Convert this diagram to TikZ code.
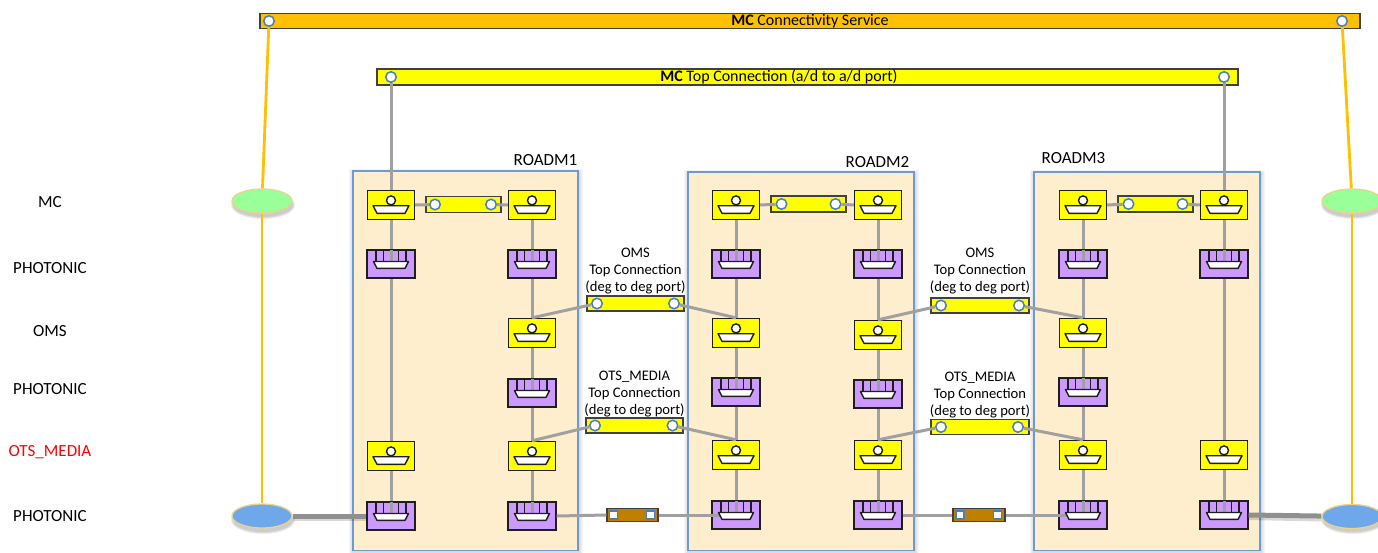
\documentclass[tikz,border=0pt]{standalone}
\usepackage{fontspec}
\setmainfont{Carlito}
\usetikzlibrary{shapes.geometric,calc}
\definecolor{orangebar}{HTML}{FFC000}
\definecolor{ybar}{HTML}{FFFF00}
\definecolor{purp}{HTML}{CC99FF}
\definecolor{roadmfill}{HTML}{FFEECE}
\definecolor{roadmline}{HTML}{6A9BD4}
\definecolor{portblue}{HTML}{4A7EC2}
\definecolor{conngray}{HTML}{A0A0A0}
\definecolor{ovalgreen}{HTML}{99FF99}
\definecolor{ovalblue}{HTML}{6FA8EA}
\definecolor{ovalline}{HTML}{E8D48C}
\definecolor{brownbar}{HTML}{BF8000}
\definecolor{edgec}{HTML}{1E1E1E}
\newcommand\yicon[1]{%
 \begin{scope}[shift={(#1.center)}]
  \draw[edgec,line width=1.4pt,fill=white,line join=round] (-18,0.7) -- (18,0.7) -- (14,8.3) -- (-14,8.3) -- cycle;
  \draw[edgec,line width=1.4pt,fill=white] (0,-4.6) circle[radius=4.5];
 \end{scope}}
\newcommand\picon[1]{%
 \begin{scope}[shift={(#1.center)}]
  \foreach \dx in {-15,-7.5,7.5,15} \draw[edgec,line width=1.4pt] (\dx,-14) -- (\dx,-2.5);
  \draw[conngray,line width=3pt] (0,-14) -- (0,-2.5);
  \draw[edgec,line width=1.4pt,fill=white,line join=round] (-17.5,-2.5) -- (17.5,-2.5) -- (14,4.4) -- (-14,4.4) -- cycle;
 \end{scope}}
\begin{document}
\begin{tikzpicture}[x=1pt,y=-1pt,
  ynode/.style={rectangle,draw=edgec,line width=1.4pt,fill=ybar,minimum width=47pt,minimum height=29pt,inner sep=0pt},
  pnode/.style={rectangle,draw=edgec,line width=1.4pt,fill=purp,minimum width=48pt,minimum height=28pt,inner sep=0pt},
  port/.style={circle,draw=portblue,line width=1.5pt,fill=white,minimum size=10.5pt,inner sep=0pt},
  sqport/.style={rectangle,draw=portblue,line width=1.3pt,fill=white,minimum size=8pt,inner sep=0pt},
  conn/.style={draw=conngray,line width=3pt},
  orl/.style={draw=orangebar,line width=2.8pt},
  fatline/.style={draw=conngray!90!black,line width=5pt},
  bar/.style={rectangle,draw=edgec!85,line width=1.1pt,inner sep=0pt},
  lbl/.style={font=\fontsize{17}{20}\selectfont,text height=11pt,text depth=0pt,inner sep=0pt},
  clbl/.style={font=\fontsize{14.6}{17}\selectfont,align=center,inner sep=0pt,anchor=north},
  oval/.style={ellipse,draw=ovalline,line width=1.3pt,minimum width=60pt,minimum height=24pt,inner sep=0pt},
  roadmbox/.style={draw=roadmline,line width=1.4pt,fill=roadmfill},
]
\useasboundingbox (0,0) rectangle (1378,552);
\fill[white] (0,0) rectangle (1378,552);

% ROADM boxes with soft shadow
\foreach \a/\b/\c in {353/171/578, 688/172/914, 1034/172/1260} {
  \foreach \k in {1,2,3,4} \fill[black,opacity=0.035] (\a-\k,\b-\k+2) rectangle (\c+\k+1,556);
  \draw[roadmbox] (\a,\b) rectangle (\c,550.5);
}
\node[lbl] (lr1) at (545.5,160) {ROADM1};
\node[lbl] (lr2) at (877.5,162) {ROADM2};
\node[lbl] (lr3) at (1073.5,158) {ROADM3};

% layer labels
\node[lbl] (lmc) at (50,202) {MC};
\node[lbl] (lph1) at (50,268) {PHOTONIC};
\node[lbl] (loms) at (50,331) {OMS};
\node[lbl] (lph2) at (50,389) {PHOTONIC};
\node[lbl,text=red] (lots) at (50,451) {OTS\_MEDIA};
\node[lbl] (lph3) at (50,516) {PHOTONIC};

% top bars
\node[bar,fill=orangebar,minimum width=1100pt,minimum height=15pt] (svc) at (810,21) {};
\node[font=\fontsize{16}{18}\selectfont,text height=10.3pt,text depth=0pt,inner sep=0pt] (svct) at (810,20.5) {\textbf{MC} Connectivity Service};
\node[port] (svcL) at (269,21) {};
\node[port] (svcR) at (1342,21) {};
\node[bar,fill=ybar,minimum width=861pt,minimum height=16pt] (top) at (807.5,77) {};
\node[font=\fontsize{16}{18}\selectfont,text height=10.3pt,text depth=0pt,inner sep=0pt] (topt) at (779,76.5) {\textbf{MC} Top Connection (a/d to a/d port)};
\node[port] (topL) at (391,77) {};
\node[port] (topR) at (1224,77) {};

% ovals with shadows
\foreach \x/\y in {262/201, 262/516, 1352/201, 1352/516} {
  \foreach \k in {0,1,2} \fill[black,opacity=0.07] (\x+1,\y+4) ellipse[x radius=30+\k, y radius=12+\k];
}
\node[oval,fill=ovalgreen] (gL) at (262,201) {};
\node[oval,fill=ovalblue] (bL) at (262,516) {};
\node[oval,fill=ovalgreen] (gR) at (1352,201) {};
\node[oval,fill=ovalblue] (bR) at (1352,516.5) {};

% yellow nodes
\foreach \n/\x/\y in {r1mcL/391/205, r1mcR/532/205, r1omsR/532/333, r1otsL/391/456, r1otsR/532/456,
  r2mcL/736/205, r2mcR/878/205, r2omsL/736/333, r2omsR/878/335, r2otsL/736/455, r2otsR/878/455,
  r3mcL/1083/205, r3mcR/1224/205, r3omsL/1083/333, r3otsL/1083/455, r3otsR/1224/455}
  \node[ynode] (\n) at (\x,\y) {};
% purple nodes
\foreach \n/\x/\y in {r1p1L/391/264, r1p1R/532/264, r1p2R/532/393, r1p3L/391/516, r1p3R/532/516,
  r2p1L/736/264, r2p1R/878/264, r2p2L/736/392, r2p2R/878/394, r2p3L/736/515, r2p3R/878/515,
  r3p1L/1083/264, r3p1R/1224/264, r3p2L/1083/392, r3p3L/1083/515, r3p3R/1224/515}
  \node[pnode] (\n) at (\x,\y) {};

% inner MC connections
\node[bar,fill=ybar,minimum width=75pt,minimum height=16pt] (m1) at (463.5,204.5) {};
\node[port] (m1a) at (435,204.5) {}; \node[port] (m1b) at (491,204.5) {};
\node[bar,fill=ybar,minimum width=75pt,minimum height=16pt] (m2) at (808.5,204) {};
\node[port] (m2a) at (781.5,204) {}; \node[port] (m2b) at (835.5,204) {};
\node[bar,fill=ybar,minimum width=75pt,minimum height=16pt] (m3) at (1155.5,204) {};
\node[port] (m3a) at (1128.5,204) {}; \node[port] (m3b) at (1182.5,204) {};

% OMS / OTS top connections
\node[bar,fill=ybar,minimum width=97pt,minimum height=15pt] (om1) at (635.5,303.5) {};
\node[port] (om1a) at (597,303.5) {}; \node[port] (om1b) at (674,303.5) {};
\node[bar,fill=ybar,minimum width=98pt,minimum height=15pt] (om2) at (980,305.5) {};
\node[port] (om2a) at (941,305.5) {}; \node[port] (om2b) at (1019,305.5) {};
\node[bar,fill=ybar,minimum width=97pt,minimum height=15pt] (ot1) at (634.5,425.5) {};
\node[port] (ot1a) at (595,425.5) {}; \node[port] (ot1b) at (672.5,425.5) {};
\node[bar,fill=ybar,minimum width=98pt,minimum height=15pt] (ot2) at (980,427) {};
\node[port] (ot2a) at (941,427) {}; \node[port] (ot2b) at (1018,427) {};

\node[clbl] (om1t) at (635.5,247.5) {OMS\\Top Connection\\(deg to deg port)};
\node[clbl] (om2t) at (980,247.5) {OMS\\Top Connection\\(deg to deg port)};
\node[clbl] (ot1t) at (634.5,370.5) {OTS\_MEDIA\\Top Connection\\(deg to deg port)};
\node[clbl] (ot2t) at (980,371.5) {OTS\_MEDIA\\Top Connection\\(deg to deg port)};

% brown links
\node[bar,fill=brownbar,minimum width=51pt,minimum height=13pt] (bl1) at (632.5,515) {};
\node[sqport] (bl1a) at (613.5,515) {}; \node[sqport] (bl1b) at (650.5,515) {};
\node[bar,fill=brownbar,minimum width=52pt,minimum height=13pt] (bl2) at (979,515) {};
\node[sqport] (bl2a) at (960,515) {}; \node[sqport] (bl2b) at (997.5,515) {};

% connectors
\draw[conn] (topL) -- (r1mcL.north);
\draw[conn] (topR) -- (r3mcR.north);
\foreach \a/\b in {r1mcL/r1p1L, r1p1L/r1otsL, r1otsL/r1p3L,
  r1mcR/r1p1R, r1p1R/r1omsR, r1omsR/r1p2R, r1p2R/r1otsR, r1otsR/r1p3R,
  r2mcL/r2p1L, r2p1L/r2omsL, r2omsL/r2p2L, r2p2L/r2otsL, r2otsL/r2p3L,
  r2mcR/r2p1R, r2p1R/r2omsR, r2omsR/r2p2R, r2p2R/r2otsR, r2otsR/r2p3R,
  r3mcL/r3p1L, r3p1L/r3omsL, r3omsL/r3p2L, r3p2L/r3otsL, r3otsL/r3p3L,
  r3mcR/r3p1R, r3p1R/r3otsR, r3otsR/r3p3R}
  \draw[conn] (\a.south) -- (\b.north);
\draw[conn] (r1mcL.east) -- (m1a);
\draw[conn] (m1b) -- (r1mcR.west);
\draw[conn] (r2mcL.east) -- (m2a);
\draw[conn] (m2b) -- (r2mcR.west);
\draw[conn] (r3mcL.east) -- (m3a);
\draw[conn] (m3b) -- (r3mcR.west);
\draw[conn] (om1a) -- (r1omsR.north);
\draw[conn] (om1b) -- (r2omsL.north);
\draw[conn] (om2a) -- (r2omsR.north);
\draw[conn] (om2b) -- (r3omsL.north);
\draw[conn] (ot1a) -- (r1otsR.north);
\draw[conn] (ot1b) -- (r2otsL.north);
\draw[conn] (ot2a) -- (r2otsR.north);
\draw[conn] (ot2b) -- (r3otsL.north);
\draw[conn] (r1p3R.east) -- (bl1.west);
\draw[conn] (bl1.east) -- ($(r2p3L.center)+(-16,0)$);
\draw[conn] (r2p3R.east) -- (bl2.west);
\draw[conn] (bl2.east) -- ($(r3p3L.center)+(-16,0)$);

% fat photonic links to the ovals
\draw[black,opacity=0.15,line width=5pt] ([yshift=-2.5pt]bL.east) -- ([yshift=-2.5pt]r1p3L.west);
\draw[fatline] (bL) -- (r1p3L.west);
\draw[black,opacity=0.15,line width=5pt] ([yshift=-2.5pt]r3p3R.east) -- ([yshift=-2.5pt]bR.west);
\draw[fatline] (r3p3R.east) -- (bR);

% orange service lines
\draw[orl] (svcL) -- (gL);
\draw[orl] (gL) -- (bL);
\draw[orl] (svcR) -- (gR);
\draw[orl] (gR) -- (bR);

% icons
\foreach \n in {r1mcL, r1mcR, r1omsR, r1otsL, r1otsR, r2mcL, r2mcR, r2omsL, r2omsR, r2otsL, r2otsR,
  r3mcL, r3mcR, r3omsL, r3otsL, r3otsR} \yicon{\n};
\foreach \n in {r1p1L, r1p1R, r1p2R, r1p3L, r1p3R, r2p1L, r2p1R, r2p2L, r2p2R, r2p3L, r2p3R,
  r3p1L, r3p1R, r3p2L, r3p3L, r3p3R} \picon{\n};
\end{tikzpicture}
\end{document}
